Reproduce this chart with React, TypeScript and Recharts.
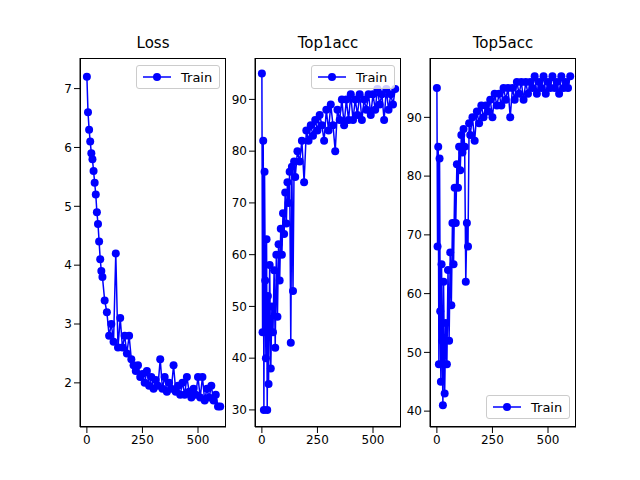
import { LineChart, Line, XAxis, YAxis } from "recharts";

const lossX = [0, 5, 10, 15, 20, 25, 30, 35, 40, 45, 50, 55, 60, 65, 70, 80, 90, 100, 110, 120, 130, 140, 150, 160, 170, 180, 190, 200, 210, 220, 230, 240, 250, 260, 270, 280, 290, 300, 310, 320, 330, 340, 350, 360, 370, 380, 390, 400, 410, 420, 430, 440, 450, 460, 470, 480, 490, 500, 510, 520, 530, 540, 550, 560, 570, 580, 590, 600];
const lossY = [7.2, 6.6, 6.3, 6.1, 5.9, 5.8, 5.6, 5.4, 5.2, 4.9, 4.7, 4.4, 4.1, 3.9, 3.8, 3.4, 3.2, 2.8, 3.0, 2.7, 4.2, 2.6, 3.1, 2.6, 2.8, 2.5, 2.8, 2.4, 2.3, 2.2, 2.3, 2.1, 2.15, 2.0, 2.2, 1.95, 2.1, 1.9, 2.05, 1.95, 2.4, 1.9, 2.1, 1.85, 2.0, 1.9, 2.3, 1.85, 1.95, 1.8, 2.0, 1.8, 2.1, 1.85, 1.75, 1.9, 1.8, 2.1, 1.75, 2.1, 1.7, 1.9, 1.75, 1.95, 1.7, 1.8, 1.6, 1.6];

const accX = [0, 3, 6, 9, 12, 15, 18, 21, 24, 27, 30, 35, 40, 45, 50, 55, 60, 65, 70, 75, 80, 85, 90, 95, 100, 105, 110, 115, 120, 125, 130, 135, 140, 145, 150, 160, 170, 180, 190, 200, 210, 220, 230, 240, 250, 260, 270, 280, 290, 300, 310, 320, 330, 340, 350, 360, 370, 380, 390, 400, 410, 420, 430, 440, 450, 460, 470, 480, 490, 500, 510, 520, 530, 540, 550, 560, 570, 580, 590, 600];
const top1Y = [95, 45, 82, 30, 76, 55, 40, 63, 30, 52, 35, 58, 38, 50, 45, 57, 42, 60, 48, 62, 55, 65, 60, 68, 64, 72, 66, 74, 70, 76, 43, 77, 53, 78, 75, 80, 78, 82, 74, 84, 82, 85, 83, 86, 84, 87, 85, 82, 88, 84, 89, 85, 80, 88, 86, 90, 85, 90, 86, 91, 86, 90, 87, 91, 86, 90, 88, 91, 87, 91, 88, 92, 89, 91, 86, 92, 88, 91, 89, 92];
const top5Y = [95, 68, 85, 48, 83, 57, 45, 65, 52, 41, 62, 43, 55, 48, 64, 52, 67, 58, 72, 65, 78, 72, 82, 78, 85, 81, 87, 84, 88, 85, 62, 72, 68, 89, 87, 90, 86, 91, 89, 92, 90, 92, 91, 93, 90, 94, 92, 94, 92, 95, 93, 95, 90, 95, 93, 96, 94, 96, 93, 96, 94, 96, 95, 97, 94, 96, 95, 97, 94, 96, 95, 97, 95, 96, 94, 97, 95, 96, 95, 97];

const lossTicks = [2, 3, 4, 5, 6, 7];
const top1Ticks = [30, 40, 50, 60, 70, 80, 90];
const top5Ticks = [40, 50, 60, 70, 80, 90];
const xTicks = [0, 250, 500];

const lossData = lossX.map((x, i) => ({ x, y: lossY[i] }));
const top1Data = accX.map((x, i) => ({ x, y: top1Y[i] }));
const top5Data = accX.map((x, i) => ({ x, y: top5Y[i] }));

const FONT = "DejaVu Sans, sans-serif";
const TOP = 58;
const BOTTOM = 427;
const YW = 40;

const tickStyle = { fontSize: 12, fill: "#000", fontFamily: FONT };

function Legend({ left, top }: { left: number; top: number }) {
  return (
    <div
      style={{
        position: "absolute",
        left,
        top,
        width: 84,
        height: 24,
        border: "1px solid #ccc",
        borderRadius: 3,
        background: "rgba(255,255,255,0.8)",
        display: "flex",
        alignItems: "center",
        fontFamily: FONT,
        fontSize: 13,
        boxSizing: "border-box",
      }}
    >
      <svg width={34} height={12} style={{ marginLeft: 4, marginRight: 6 }}>
        <line x1={2} y1={6} x2={30} y2={6} stroke="#0000ff" strokeWidth={1.5} />
        <circle cx={16} cy={6} r={4} fill="#0000ff" />
      </svg>
      Train
    </div>
  );
}

function Panel({
  left,
  title,
  data,
  domain,
  ticks,
  legendTop,
}: {
  left: number;
  title: string;
  data: { x: number; y: number }[];
  domain: [number, number];
  ticks: number[];
  legendTop: number;
}) {
  const w = 146;
  return (
    <>
      <LineChart
        width={w + YW}
        height={480}
        data={data}
        margin={{ top: TOP, right: 0, left: 0, bottom: 480 - BOTTOM - 30 }}
        style={{ position: "absolute", left: left - YW, top: 0 }}
      >
        <XAxis
          dataKey="x"
          type="number"
          domain={[-31, 626]}
          ticks={xTicks}
          allowDataOverflow
          height={30}
          tick={tickStyle}
          stroke="#000"
          tickLine={{ stroke: "#000" }}
        />
        <YAxis
          type="number"
          domain={domain}
          ticks={ticks}
          allowDataOverflow
          width={YW}
          tick={tickStyle}
          stroke="#000"
          tickLine={{ stroke: "#000" }}
        />
        <Line
          dataKey="y"
          stroke="#0000ff"
          strokeWidth={1.5}
          dot={{ r: 4, fill: "#0000ff", stroke: "#0000ff", strokeWidth: 0 }}
          isAnimationActive={false}
        />
      </LineChart>
      <div
        style={{
          position: "absolute",
          left,
          top: TOP,
          width: w,
          height: BOTTOM - TOP,
          border: "1px solid #000",
          boxSizing: "border-box",
          pointerEvents: "none",
        }}
      />
      <div
        style={{
          position: "absolute",
          left,
          top: 34,
          width: w,
          textAlign: "center",
          fontFamily: FONT,
          fontSize: 15,
        }}
      >
        {title}
      </div>
      <Legend left={left + w - 90} top={legendTop} />
    </>
  );
}

export default function App() {
  return (
    <div style={{ position: "fixed", left: 0, top: 0, width: 640, height: 480, background: "#fff" }}>
      <Panel left={80} title="Loss" data={lossData} domain={[1.25, 7.52]} ticks={lossTicks} legendTop={65} />
      <Panel left={255} title="Top1acc" data={top1Data} domain={[26.7, 98]} ticks={top1Ticks} legendTop={65} />
      <Panel left={430} title="Top5acc" data={top5Data} domain={[37.3, 100.1]} ticks={top5Ticks} legendTop={395} />
    </div>
  );
}
